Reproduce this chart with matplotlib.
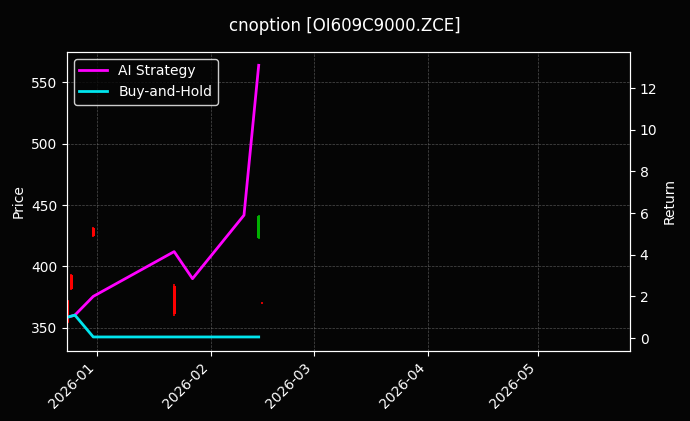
import pandas as pd
import matplotlib
matplotlib.use("Agg")
from matplotlib import pyplot as plt
import matplotlib.dates as mdates

# candles
c_dates = pd.to_datetime(["2025-12-24", "2025-12-25", "2025-12-31", "2026-01-22", "2026-02-14", "2026-02-15"])
c_open = [372, 393, 431, 384, 423, 370.5]
c_close = [355, 382, 425, 361, 441, 370]
c_high = [373, 394, 432, 386, 442, 371]
c_low = [354, 381, 424, 360, 422, 369.5]

# returns
r_dates = pd.to_datetime(["2025-12-24", "2025-12-26", "2025-12-31", "2026-01-22",
                          "2026-01-27", "2026-02-10", "2026-02-14"])
ai_ret = [1.0, 1.1, 2.0, 4.15, 2.85, 5.9, 13.1]
bh_ret = [1.0, 1.1, 0.05, 0.05, 0.05, 0.05, 0.05]

bg = "#050505"
fig, ax = plt.subplots(figsize=(6.9, 4.21), dpi=100)
fig.patch.set_facecolor(bg)
ax.set_facecolor(bg)

for d, o, c, h, l in zip(c_dates, c_open, c_close, c_high, c_low):
    col = "#00b000" if c >= o else "#ff0000"
    ax.vlines(d, l, h, color=col, linewidth=1.2)
    ax.bar(d, abs(c - o), bottom=min(o, c), width=0.8, color=col)

ax.set_ylim(331, 575)
ax.set_xlim(pd.Timestamp("2025-12-23 20:00"), pd.Timestamp("2026-05-26"))
ax.set_ylabel("Price", color="white")
ax.grid(True, color="gray", linestyle="--", linewidth=0.5, alpha=0.6)

ax2 = ax.twinx()
ax2.plot(r_dates, ai_ret, color="#ff00ff", linewidth=2, label="AI Strategy")
ax2.plot(r_dates, bh_ret, color="#00e5ee", linewidth=2, label="Buy-and-Hold")
ax2.set_ylim(-0.63, 13.75)
ax2.set_ylabel("Return", color="white")
leg = ax2.legend(loc="upper left", facecolor=bg, edgecolor="white")
for t in leg.get_texts():
    t.set_color("white")

ax.xaxis.set_major_locator(mdates.MonthLocator())
ax.xaxis.set_major_formatter(mdates.DateFormatter("%Y-%m"))
plt.setp(ax.get_xticklabels(), rotation=45, ha="right")

for a in (ax, ax2):
    a.tick_params(colors="white")
    for s in a.spines.values():
        s.set_color("white")

fig.suptitle("cnoption [OI609C9000.ZCE]", color="white", y=0.96)
fig.subplots_adjust(left=0.097, right=0.913, top=0.877, bottom=0.166)
fig.savefig("out.png", facecolor=bg)
